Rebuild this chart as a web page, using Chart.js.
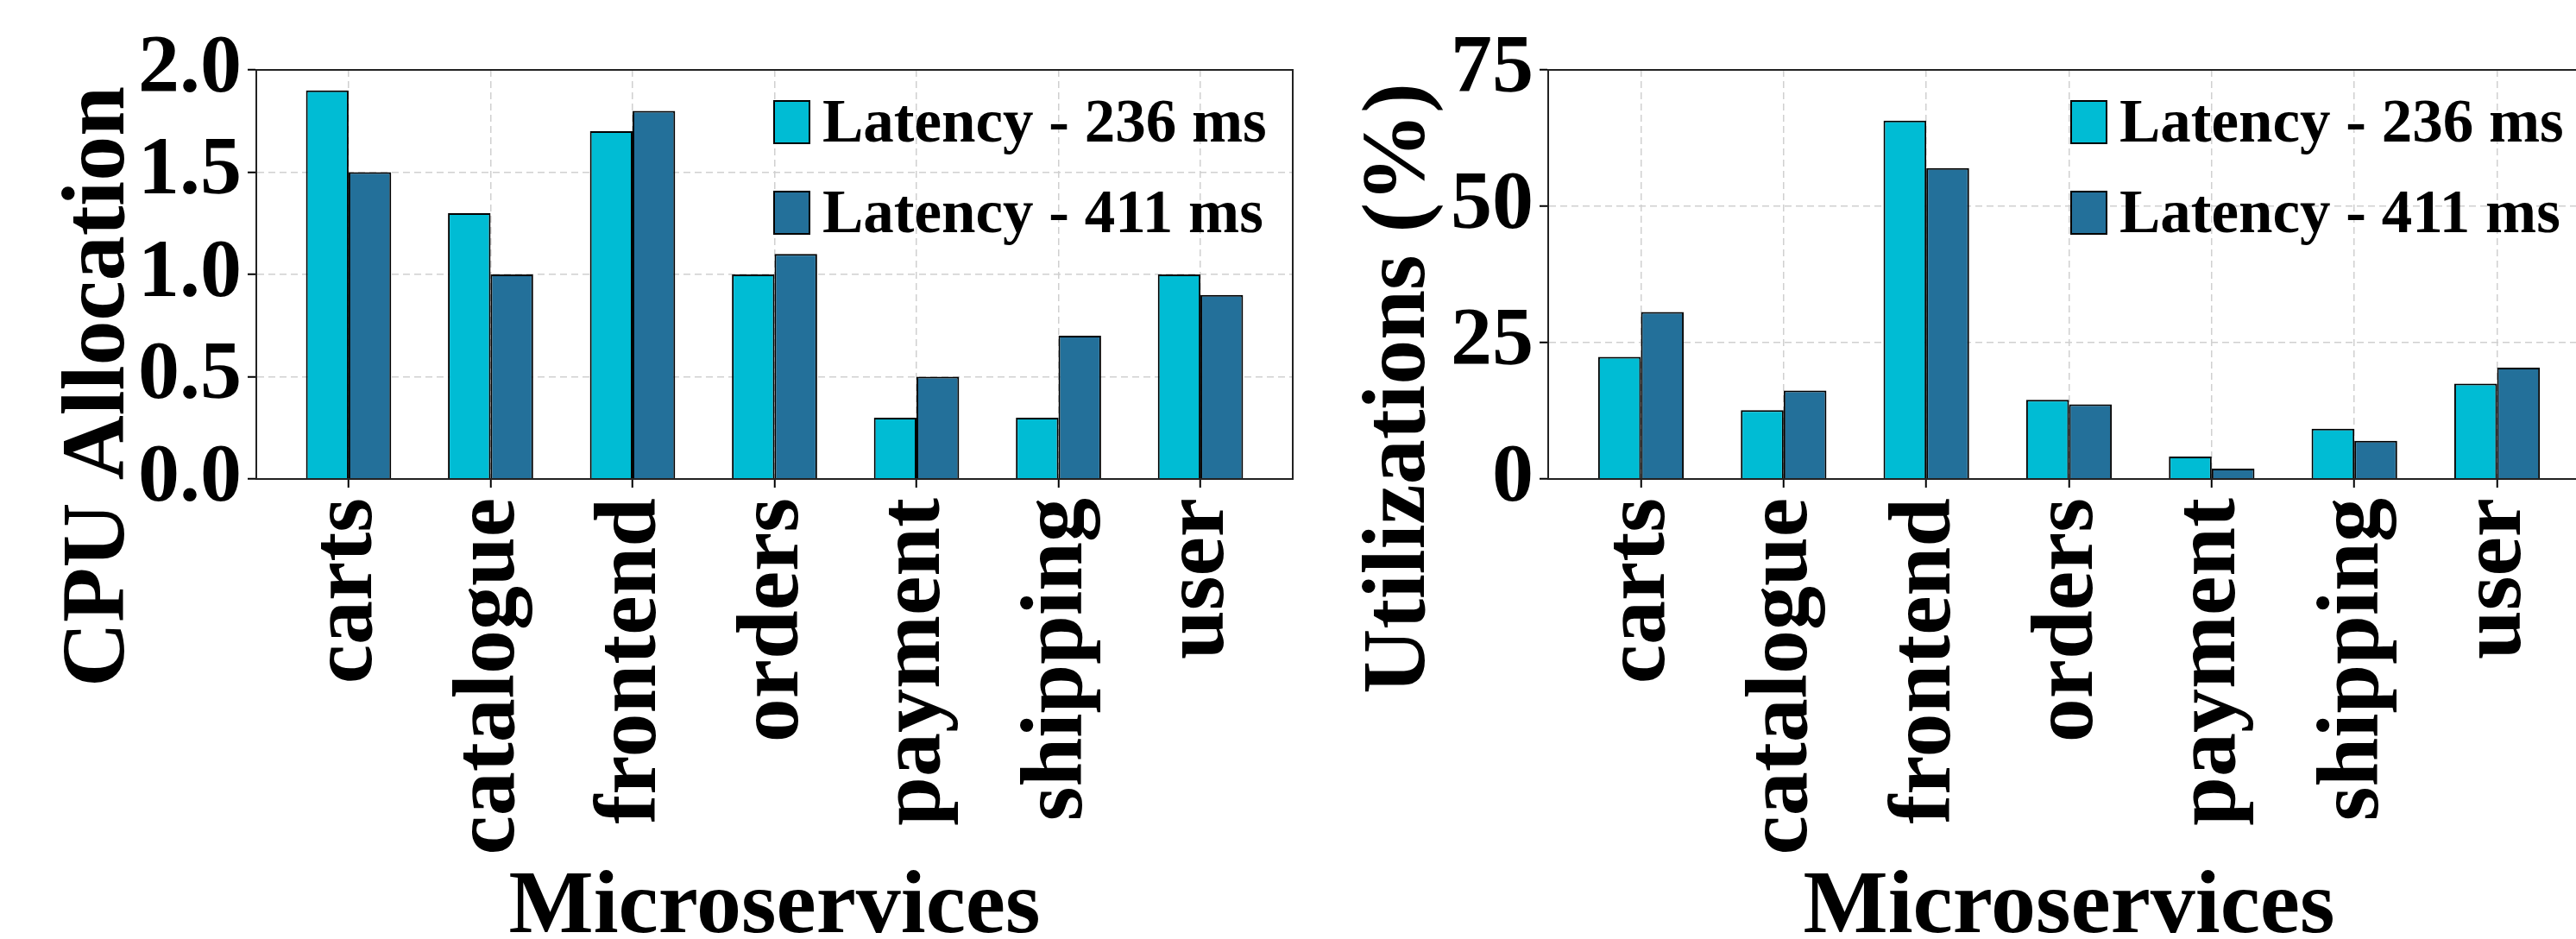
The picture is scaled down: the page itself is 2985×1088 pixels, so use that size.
<!DOCTYPE html>
<html><head><meta charset="utf-8">
<script src="https://cdn.jsdelivr.net/npm/chart.js@4"></script>
<style>
html,body{margin:0;padding:0;background:#fff;overflow:hidden;width:2985px;height:1088px;position:relative}
canvas{position:absolute;top:0}
</style></head>
<body>
<canvas id="cpu" width="1500" height="1088" style="left:0"></canvas>
<canvas id="util" width="1510" height="1088" style="left:1500px"></canvas>
<script>
const categories = ['carts','catalogue','frontend','orders','payment','shipping','user'];
const seriesNames = ['Latency - 236 ms','Latency - 411 ms'];
const cpu236 = [1.9,1.3,1.7,1.0,0.3,0.3,1.0];
const cpu411 = [1.5,1.0,1.8,1.1,0.5,0.7,0.9];
const util236 = [22.4,12.6,65.7,14.5,4.1,9.2,17.5];
const util411 = [30.6,16.2,57.0,13.7,1.9,7.0,20.4];
const cpuTicks = ['0.0','0.5','1.0','1.5','2.0'];
const utilTicks = ['0','25','50','75'];
const xTitle = 'Microservices';
const cpuTitle = 'CPU Allocation';
const utilTitle = 'Utilizations (%)';
const seriesColors = ['#00BCD4','#23709A'];

const FONT = "'Liberation Serif','Times New Roman',serif";

const deco = {
  id: 'deco',
  afterDatasetsDraw(chart, args, o) {
    const ctx = chart.ctx, a = chart.chartArea;
    ctx.save();
    ctx.strokeStyle = '#222'; ctx.lineWidth = 2;
    ctx.strokeRect(a.left, a.top, a.right - a.left, a.bottom - a.top);
    const bx = a.right - o.legendRight;
    chart.data.datasets.forEach((ds, i) => {
      const top = a.top + 36 + i * 105;
      ctx.fillStyle = ds.backgroundColor;
      ctx.fillRect(bx, top, 41, 49);
      ctx.strokeStyle = '#000'; ctx.lineWidth = 2;
      ctx.strokeRect(bx, top, 41, 49);
      ctx.fillStyle = '#000';
      ctx.font = 'bold 71px ' + FONT;
      ctx.textAlign = 'left'; ctx.textBaseline = 'alphabetic';
      ctx.fillText(ds.label, bx + 56, top + 47);
    });
    ctx.fillStyle = '#000';
    ctx.font = 'bold 104px ' + FONT;
    ctx.textAlign = 'center'; ctx.textBaseline = 'alphabetic';
    ctx.fillText(o.xTitle, (a.left + a.right) / 2, 1080);
    ctx.translate(a.left - o.yTitleGap, o.yTitleCenter);
    ctx.rotate(-Math.PI / 2);
    ctx.fillText(o.yTitle, 0, 0);
    ctx.restore();
  }
};

function makeChart(id, vals, yMax, yStep, yTicks, yTitle, yWidth, padRight, yTitleGap, yTitleCenter) {
  return new Chart(document.getElementById(id), {
    type: 'bar',
    data: {
      datasets: vals.map((v, k) => ({
        label: seriesNames[k],
        data: categories.map((c, i) => ({x: i, y: v[i]})),
        backgroundColor: seriesColors[k],
        borderColor: '#000',
        borderWidth: 2,
        categoryPercentage: 0.6,
        barPercentage: 1.0
      }))
    },
    options: {
      responsive: false, animation: false, devicePixelRatio: 1,
      layout: {padding: {top: 81, right: padRight, left: 0, bottom: 0}},
      plugins: {
        legend: {display: false}, tooltip: {enabled: false},
        deco: {legendRight: 601, xTitle: xTitle, yTitle: yTitle, yTitleGap: yTitleGap, yTitleCenter: yTitleCenter}
      },
      scales: {
        x: {
          type: 'linear', min: -0.65, max: 6.65, offset: false,
          afterBuildTicks: s => { s.ticks = categories.map((c, i) => ({value: i})); },
          afterFit: s => { s.height = 533; s.paddingLeft = 0; s.paddingRight = 0; },
          ticks: {autoSkip: false, maxRotation: 90, minRotation: 90, padding: 12, color: '#000',
                  font: {family: FONT, size: 102, weight: 'bold'},
                  callback: v => categories[Math.round(v)]},
          grid: {offset: false, color: '#d0d0d0', lineWidth: 1.5, drawTicks: true, tickLength: 10, tickColor: '#000', tickWidth: 2},
          border: {display: true, color: '#222', width: 2, dash: [8, 5]}
        },
        y: {
          min: 0, max: yMax,
          afterFit: s => { s.width = yWidth; s.paddingTop = 0; s.paddingBottom = 0; },
          ticks: {stepSize: yStep, padding: 7, color: '#000',
                  font: {family: FONT, size: 96, weight: 'bold'},
                  callback: v => yTicks[Math.round(v / yStep)]},
          grid: {color: '#d0d0d0', lineWidth: 1.5, drawTicks: true, tickLength: 10, tickColor: '#000', tickWidth: 2},
          border: {display: true, color: '#222', width: 2, dash: [8, 5]}
        }
      }
    },
    plugins: [deco]
  });
}

makeChart('cpu', [cpu236, cpu411], 2.0, 0.5, cpuTicks, cpuTitle, 297, 2, 154, 448);
makeChart('util', [util236, util411], 75, 25, utilTicks, utilTitle, 294, 9, 144, 450);
</script>
</body></html>
